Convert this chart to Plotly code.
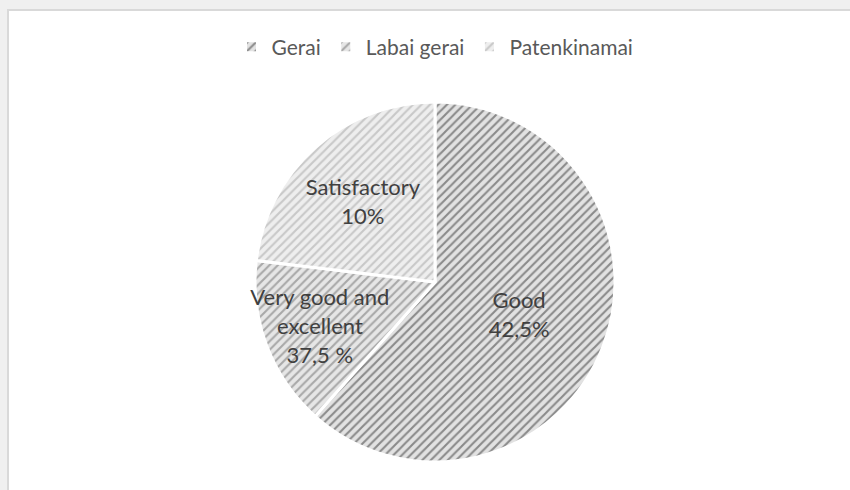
import plotly.graph_objects as go

categories = ["Gerai", "Labai gerai", "Patenkinamai"]
values = [61.6, 15.3, 23.1]
slice_labels = ["Good<br>42,5%", "Very good and<br>excellent<br>37,5 %", "Satisfactory<br>10%"]

W, H = 850, 490
L, R, T, B = 20, 0, 102, 28
pw, ph = W - L - R, H - T - B

def px_x(px):
    return (px - L) / pw

def px_y(py):
    return 1 - (py - T) / ph

fig = go.Figure(go.Pie(
    labels=categories,
    values=values,
    text=slice_labels,
    textinfo="text",
    textposition="inside",
    insidetextorientation="horizontal",
    sort=False,
    direction="clockwise",
    rotation=0,
    marker=dict(
        colors=["#e2e2e2", "#e6e6e6", "#eeeeee"],
        line=dict(color="white", width=3),
        pattern=dict(
            shape=["/", "/", "/"],
            fgcolor=["#8a8a8a", "#a8a8a8", "#c8c8c8"],
            bgcolor=["#e2e2e2", "#e6e6e6", "#eeeeee"],
            size=6,
            solidity=0.35,
            fillmode="replace",
        ),
    ),
    insidetextfont=dict(family="Lato, Open Sans, sans-serif", size=22, color="#404040"),
    hoverinfo="label+percent",
))

fig.update_layout(
    width=W, height=H,
    margin=dict(l=L, r=R, t=T, b=B, autoexpand=False),
    paper_bgcolor="#f0f0f0",
    plot_bgcolor="white",
    font=dict(family="Lato, Open Sans, sans-serif", color="#595959"),
    uniformtext=dict(minsize=22, mode="show"),
    showlegend=True,
    legend=dict(
        orientation="h",
        x=0.5, xanchor="center",
        y=px_y(47), yanchor="middle",
        font=dict(size=21, color="#595959"),
        bgcolor="rgba(0,0,0,0)",
        itemwidth=30,
    ),
    shapes=[dict(
        type="rect", xref="paper", yref="paper", layer="below",
        x0=px_x(8), x1=px_x(853), y0=px_y(493), y1=px_y(10),
        fillcolor="white", line=dict(color="#d9d9d9", width=2),
    )],
)

fig.write_html(
    "out.html",
    config={"displayModeBar": False},
    post_script="document.body.style.margin='0';document.body.style.background='#f0f0f0';",
)
